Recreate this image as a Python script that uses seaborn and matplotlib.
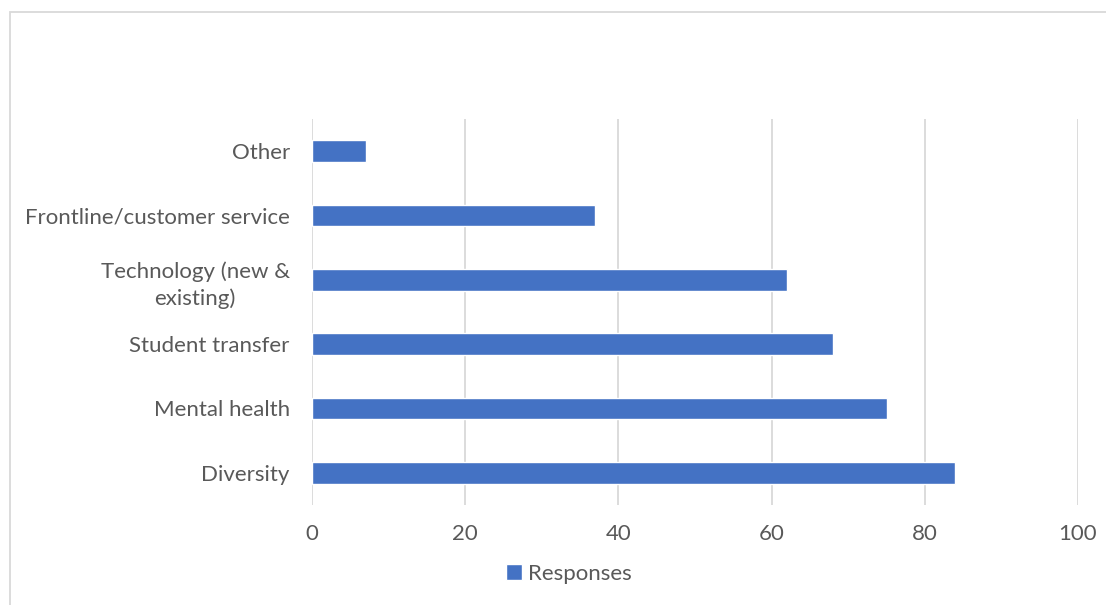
import matplotlib
matplotlib.use("Agg")
import matplotlib.pyplot as plt
import seaborn as sns
import pandas as pd
from matplotlib.patches import Rectangle

categories = ["Other", "Frontline/customer service", "Technology (new &\nexisting)",
              "Student transfer", "Mental health", "Diversity"]
responses = [7, 37, 62, 68, 75, 84]
x_ticks = [0, 20, 40, 60, 80, 100]
series_name = "Responses"

sns.set_theme(style="white")
plt.rcParams['font.family'] = ['Lato', 'DejaVu Sans']

df = pd.DataFrame({"category": categories, "value": responses})

fig = plt.figure(figsize=(11.06, 6.05), dpi=100)
ax = fig.add_axes([312/1106, 1-505/605, (1078-312)/1106, (505-119)/605])

sns.barplot(data=df, x="value", y="category", order=categories, orient="h",
            color="#4472C4", saturation=1, width=0.34, ax=ax, label=series_name, zorder=3)

ax.set_xlim(0, 100)
ax.set_xticks(x_ticks)
ax.set_xticklabels([str(t) for t in x_ticks])
ax.grid(axis="x", color="#D9D9D9", linewidth=1.3, zorder=0)
ax.set_axisbelow(True)
for s in ax.spines.values():
    s.set_visible(False)
ax.set_xlabel("")
ax.set_ylabel("")
ax.tick_params(axis="both", length=0, colors="#595959", labelsize=16)
ax.tick_params(axis="x", pad=14)
ax.tick_params(axis="y", pad=16)
for lab in ax.get_yticklabels():
    lab.set_multialignment("center")
    lab.set_linespacing(1.4)

leg = ax.legend(loc="center", bbox_to_anchor=(569/1106, 1-574/605),
                bbox_transform=fig.transFigure, frameon=False, fontsize=16,
                handlelength=0.7, handleheight=0.7, handletextpad=0.3)
for t in leg.get_texts():
    t.set_color("#595959")

fig.patches.append(Rectangle((10/1106, -0.05), 1.2, 1-12/605+0.05,
                             transform=fig.transFigure, fill=False,
                             edgecolor="#D9D9D9", linewidth=1.3))

fig.savefig("out.png", dpi=100)
